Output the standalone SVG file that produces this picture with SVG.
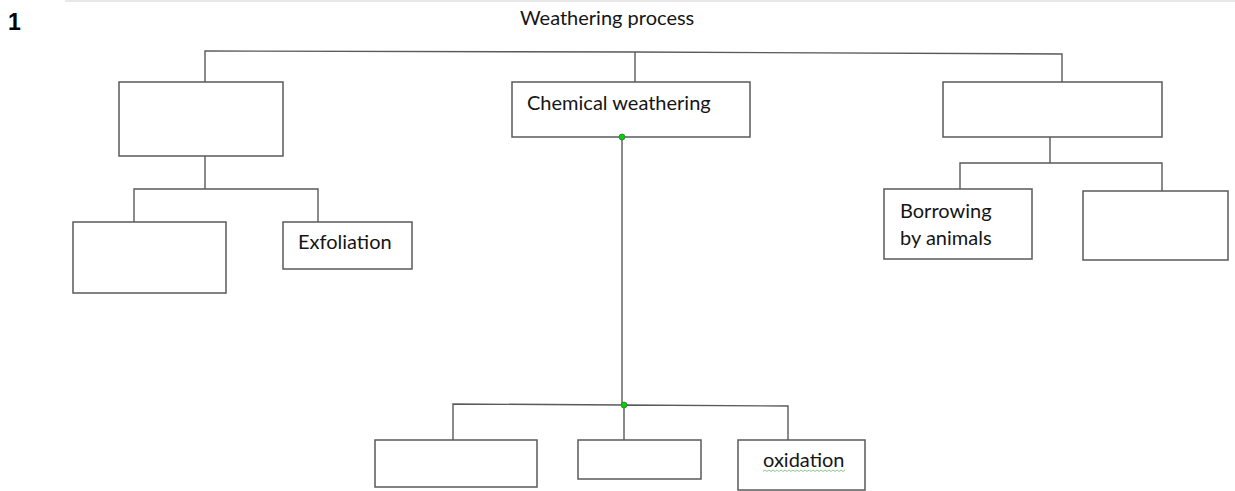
<svg xmlns="http://www.w3.org/2000/svg" width="1235" height="491" viewBox="0 0 1235 491">
<style>
.box{fill:#fff;stroke:#5a5a5a;stroke-width:1.5}
.ln{fill:none;stroke:#5a5a5a;stroke-width:1.4}
.t{font-family:Lato,"Open Sans",sans-serif;font-size:20px;fill:#151515}
.dot{fill:#00d000;stroke:#3a7a3a;stroke-width:0.8}
</style>
<rect width="1235" height="491" fill="#fff"/>
<line x1="65" y1="1" x2="1235" y2="1" stroke="#e8e8e8" stroke-width="2"/>
<text x="8" y="30" font-family="'Liberation Sans',Arial,sans-serif" font-weight="bold" font-size="23" fill="#000">1</text>
<text id="title" class="t" x="520" y="25">Weathering process</text>
<g id="connectors">
<path class="ln" d="M205,82 V51 L635,52 L1062,54 V82"/>
<path class="ln" d="M635,52 V82"/>
<path class="ln" d="M205,156 V189 M134,222 V189 H318 V222"/>
<path class="ln" d="M622,137 V405 M453,440 V404 L624,405 L788,406 V440 M624,405 V440"/>
<path class="ln" d="M1050,137 V163 M960,189 V163 H1162 V191"/>
</g>
<g id="n-left"><rect class="box" x="119" y="82" width="164" height="74"/></g>
<g id="n-left-a"><rect class="box" x="73" y="222" width="153" height="71"/></g>
<g id="n-exfoliation"><rect class="box" x="283" y="222" width="129" height="47"/><text class="t" x="298" y="249">Exfoliation</text></g>
<g id="n-chemical"><rect class="box" x="512" y="82" width="238" height="55"/><text class="t" x="527" y="110">Chemical weathering</text></g>
<g id="n-right"><rect class="box" x="943" y="82" width="219" height="55"/></g>
<g id="n-borrowing"><rect class="box" x="884" y="189" width="148" height="70"/><text class="t" x="900" y="218">Borrowing</text><text class="t" x="900" y="245">by animals</text></g>
<g id="n-right-b"><rect class="box" x="1083" y="191" width="145" height="69"/></g>
<g id="n-bottom-a"><rect class="box" x="375" y="440" width="162" height="47"/></g>
<g id="n-bottom-b"><rect class="box" x="578" y="440" width="123" height="39"/></g>
<g id="n-oxidation"><rect class="box" x="738" y="440" width="127" height="50"/><text class="t" x="763" y="467">oxidation</text>
<path d="M763,471.5 l2,-1.5 l2,1.5 l2,-1.5 l2,1.5 l2,-1.5 l2,1.5 l2,-1.5 l2,1.5 l2,-1.5 l2,1.5 l2,-1.5 l2,1.5 l2,-1.5 l2,1.5 l2,-1.5 l2,1.5 l2,-1.5 l2,1.5 l2,-1.5 l2,1.5 l2,-1.5 l2,1.5 l2,-1.5 l2,1.5 l2,-1.5 l2,1.5 l2,-1.5 l2,1.5 l2,-1.5 l2,1.5 l2,-1.5 l2,1.5 l2,-1.5 l2,1.5 l2,-1.5 l2,1.5 l2,-1.5 l2,1.5 l2,-1.5 l2,1.5 l2,-1.5" fill="none" stroke="#7fc27f" stroke-width="0.9"/></g>
<circle class="dot" cx="622" cy="137" r="3"/>
<circle class="dot" cx="624" cy="405" r="3"/>
</svg>
